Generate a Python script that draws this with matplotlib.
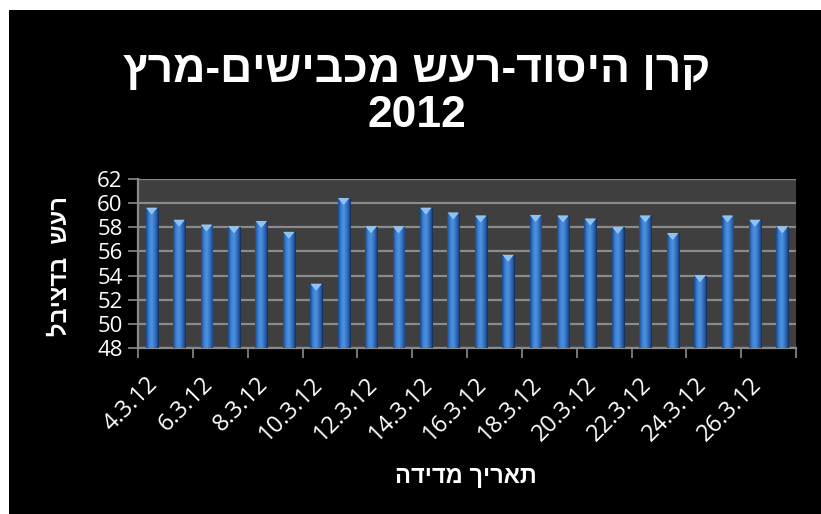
import matplotlib
matplotlib.use("Agg")
import matplotlib.pyplot as plt
import matplotlib.transforms as mtransforms
from matplotlib.patches import Rectangle, Polygon
from matplotlib.colors import LinearSegmentedColormap
import numpy as np

# ---- data ----
dates = ["4.3.12", "5.3.12", "6.3.12", "7.3.12", "8.3.12", "9.3.12", "10.3.12", "11.3.12",
         "12.3.12", "13.3.12", "14.3.12", "15.3.12", "16.3.12", "17.3.12", "18.3.12", "19.3.12",
         "20.3.12", "21.3.12", "22.3.12", "23.3.12", "24.3.12", "25.3.12", "26.3.12", "27.3.12"]
noise_db = [59.6, 58.6, 58.2, 58.05, 58.5, 57.6, 53.3, 60.4,
            58.05, 58.05, 59.6, 59.2, 58.95, 55.7, 59.0, 58.95,
            58.7, 58.0, 58.95, 57.5, 54.0, 58.95, 58.6, 58.05]
y_ticks = [48, 50, 52, 54, 56, 58, 60, 62]
title_line1 = "קרן היסוד-רעש מכבישים-מרץ"
title_line2 = "2012"
y_label = "רעש  בדציבל"
x_label = "תאריך מדידה"


def vis(s):
    # matplotlib has no bidi support: reverse Hebrew for visual order
    return s[::-1]


HEB = ["Liberation Sans", "DejaVu Sans"]
NUM = ["Open Sans", "DejaVu Sans"]

W, H = 821, 514
fig = plt.figure(figsize=(W / 100, H / 100), dpi=100)
fig.patch.set_facecolor("white")
fig.add_artist(Rectangle((9 / W, -0.01), 1.02 - 9 / W, 1.01 - 10 / H, transform=fig.transFigure,
                         facecolor="black", edgecolor="none", zorder=-10))

left, right, top, bottom = 138, 796, 179, 348
ax = fig.add_axes([left / W, 1 - bottom / H, (right - left) / W, (bottom - top) / H])
ax.set_facecolor("#3f3f3f")

x = np.arange(len(dates))
bw = 0.43
bars = ax.bar(x, noise_db, width=bw, color="#2f6cc0", edgecolor="#17335f",
              linewidth=0.7, zorder=3)

cmap = LinearSegmentedColormap.from_list("cyl", ["#1b4788", "#3b80d4", "#4f92e0", "#3573c2", "#1c4689"])
grad = np.linspace(0, 1, 64).reshape(1, -1)
for b, v in zip(bars, noise_db):
    x0 = b.get_x()
    x1 = x0 + b.get_width()
    im = ax.imshow(grad, extent=(x0, x1, y_ticks[0], v), cmap=cmap, aspect="auto",
                   zorder=3.5, interpolation="bilinear")
    im.set_clip_path(b)
    xc = x0 + b.get_width() / 2
    cap = Polygon([(x0 + 0.03, v), (x1 - 0.03, v), (xc, v - 0.5)], closed=True,
                  facecolor="#8cc2f4", edgecolor="#a8d2f8", linewidth=0.4, zorder=4)
    ax.add_patch(cap)

ax.set_xlim(-0.5, len(dates) - 0.5)
ax.set_ylim(y_ticks[0], y_ticks[-1])
ax.set_yticks(y_ticks)
ax.set_yticklabels([str(t) for t in y_ticks], family=NUM, fontsize=16, color="white")
ax.yaxis.grid(True, color="#8a8a8a", linewidth=1.6, zorder=1)
ax.set_axisbelow(True)

# x ticks at group boundaries every two categories
ax.set_xticks(np.arange(-0.5, len(dates), 2))
ax.set_xticklabels([])
ax.tick_params(axis="x", length=7, width=1.2, color="#8a8a8a")
ax.tick_params(axis="y", length=7, width=1.2, color="#8a8a8a", pad=4)

for s in ["top", "right"]:
    ax.spines[s].set_visible(False)
for s in ["left", "bottom"]:
    ax.spines[s].set_color("#8a8a8a")
    ax.spines[s].set_linewidth(1.6)

off = mtransforms.ScaledTranslation(3 / 100, -33 / 100, fig.dpi_scale_trans)
for i in range(0, len(dates), 2):
    ax.text(x[i], 0, dates[i], transform=ax.get_xaxis_transform() + off,
            rotation=45, ha="right", va="center", rotation_mode="anchor",
            family=NUM, fontsize=17, color="white")

fig.text(417 / W, 1 - 93 / H, vis(title_line1) + "\n" + title_line2, ha="center", va="center",
         family=HEB, fontsize=32, fontweight="bold", color="white", linespacing=1.12)
fig.text(60 / W, 1 - 266 / H, vis(y_label), rotation=90, ha="center", va="center",
         family=HEB, fontsize=17, fontweight="bold", color="white")
fig.text(466 / W, 1 - 476 / H, vis(x_label), ha="center", va="center",
         family=HEB, fontsize=17, fontweight="bold", color="white")

fig.savefig("out.png", dpi=100, facecolor=fig.get_facecolor())
